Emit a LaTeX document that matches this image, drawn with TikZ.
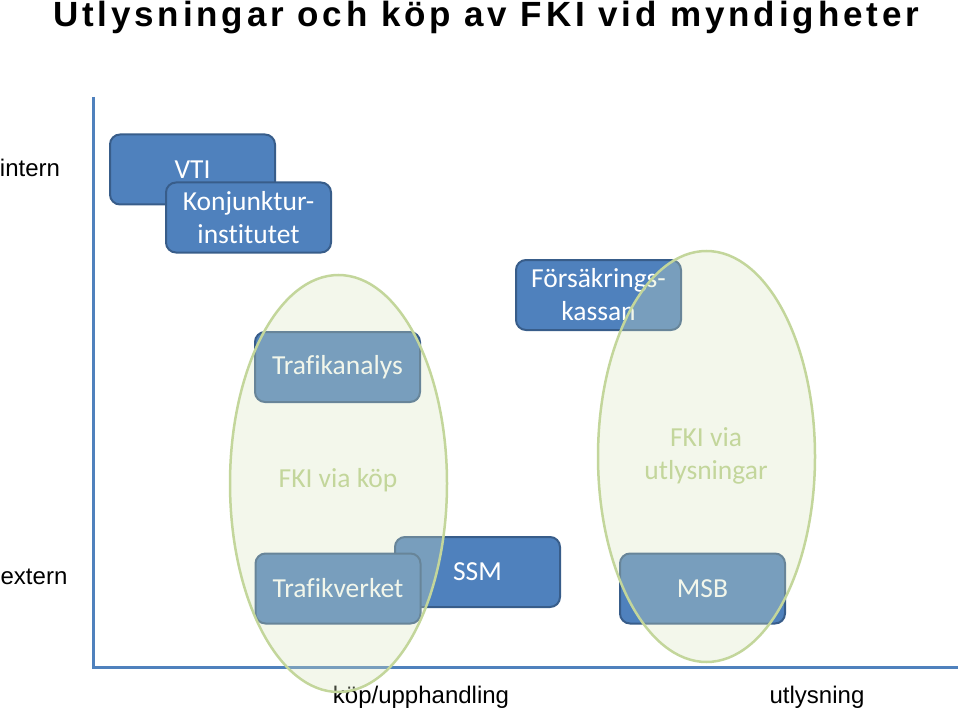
\documentclass[tikz,border=0pt]{standalone}
\usepackage{fontspec}
\setmainfont{Liberation Sans}
\newfontfamily\boxfont[Ligatures=NoCommon]{Carlito}
\usepackage{tikz}
\usetikzlibrary{shapes,positioning}
\definecolor{orgblue}{HTML}{4F81BD}
\definecolor{orgline}{HTML}{385D8A}
\definecolor{ovalline}{HTML}{C3D69B}
\definecolor{ovalfill}{HTML}{D7E4BD}

\begin{document}
\begin{tikzpicture}
	[x=1pt,y=-1pt,
	org/.style={rectangle,rounded corners=10pt,draw=orgline,line width=2pt,fill=orgblue,text=white,
		minimum width=165pt,minimum height=70pt,align=center,font=\boxfont\fontsize{27.5}{33}\selectfont},
	oval/.style={ellipse,draw=ovalline,line width=2.5pt,fill=ovalfill,fill opacity=0.3,minimum width=217pt},
	ovaltext/.style={text=ovalline,align=center,font=\boxfont\fontsize{27.5}{33}\selectfont},
	axislabel/.style={font=\fontsize{24}{28}\selectfont}]
	\useasboundingbox (0,0) rectangle (960,711);
	\node (title) at (486,18) {\addfontfeatures{LetterSpace=11}\fontsize{35}{40}\selectfont\bfseries Utlysningar och köp av FKI vid myndigheter};
	% axes
	\coordinate (ytop) at (93,97);
	\coordinate (origin) at (93,667);
	\coordinate (xend) at (958,667);
	\draw [orgblue,line width=3pt] (ytop) -- (origin) -- (xend);
	\node [axislabel] (intern) at (30,168) {intern};
	\node [axislabel] (extern) at (34,577) {extern};
	\node [axislabel] (kop) at (421,697) {köp/upphandling};
	\node [axislabel] (utl) at (817,697) {utlysning};
	% myndigheter
	\node [org] (VTI) at (192.5,169.5) {VTI};
	\node [org] (KI) at (248.5,217.5) {Konjunktur-\\institutet};
	\node [org] (FK) at (598.5,295) {Försäkrings-\\kassan};
	\node [org] (TA) at (337.5,367) {Trafikanalys};
	\node [org] (SSM) at (477.5,572) {SSM};
	\node [org] (TV) at (338,588.5) {Trafikverket};
	\node [org] (MSB) at (702.5,588.5) {MSB};
	% FKI-ovaler
	\node [oval,minimum height=417pt] (kopoval) at (338.5,483.5) {};
	\node [oval,minimum height=411pt] (utloval) at (706.5,456.5) {};
	\node [ovaltext] (koptext) at (338,480) {FKI via köp};
	\node [ovaltext] (utltext) at (706,456) {FKI via\\utlysningar};
\end{tikzpicture}
\end{document}
